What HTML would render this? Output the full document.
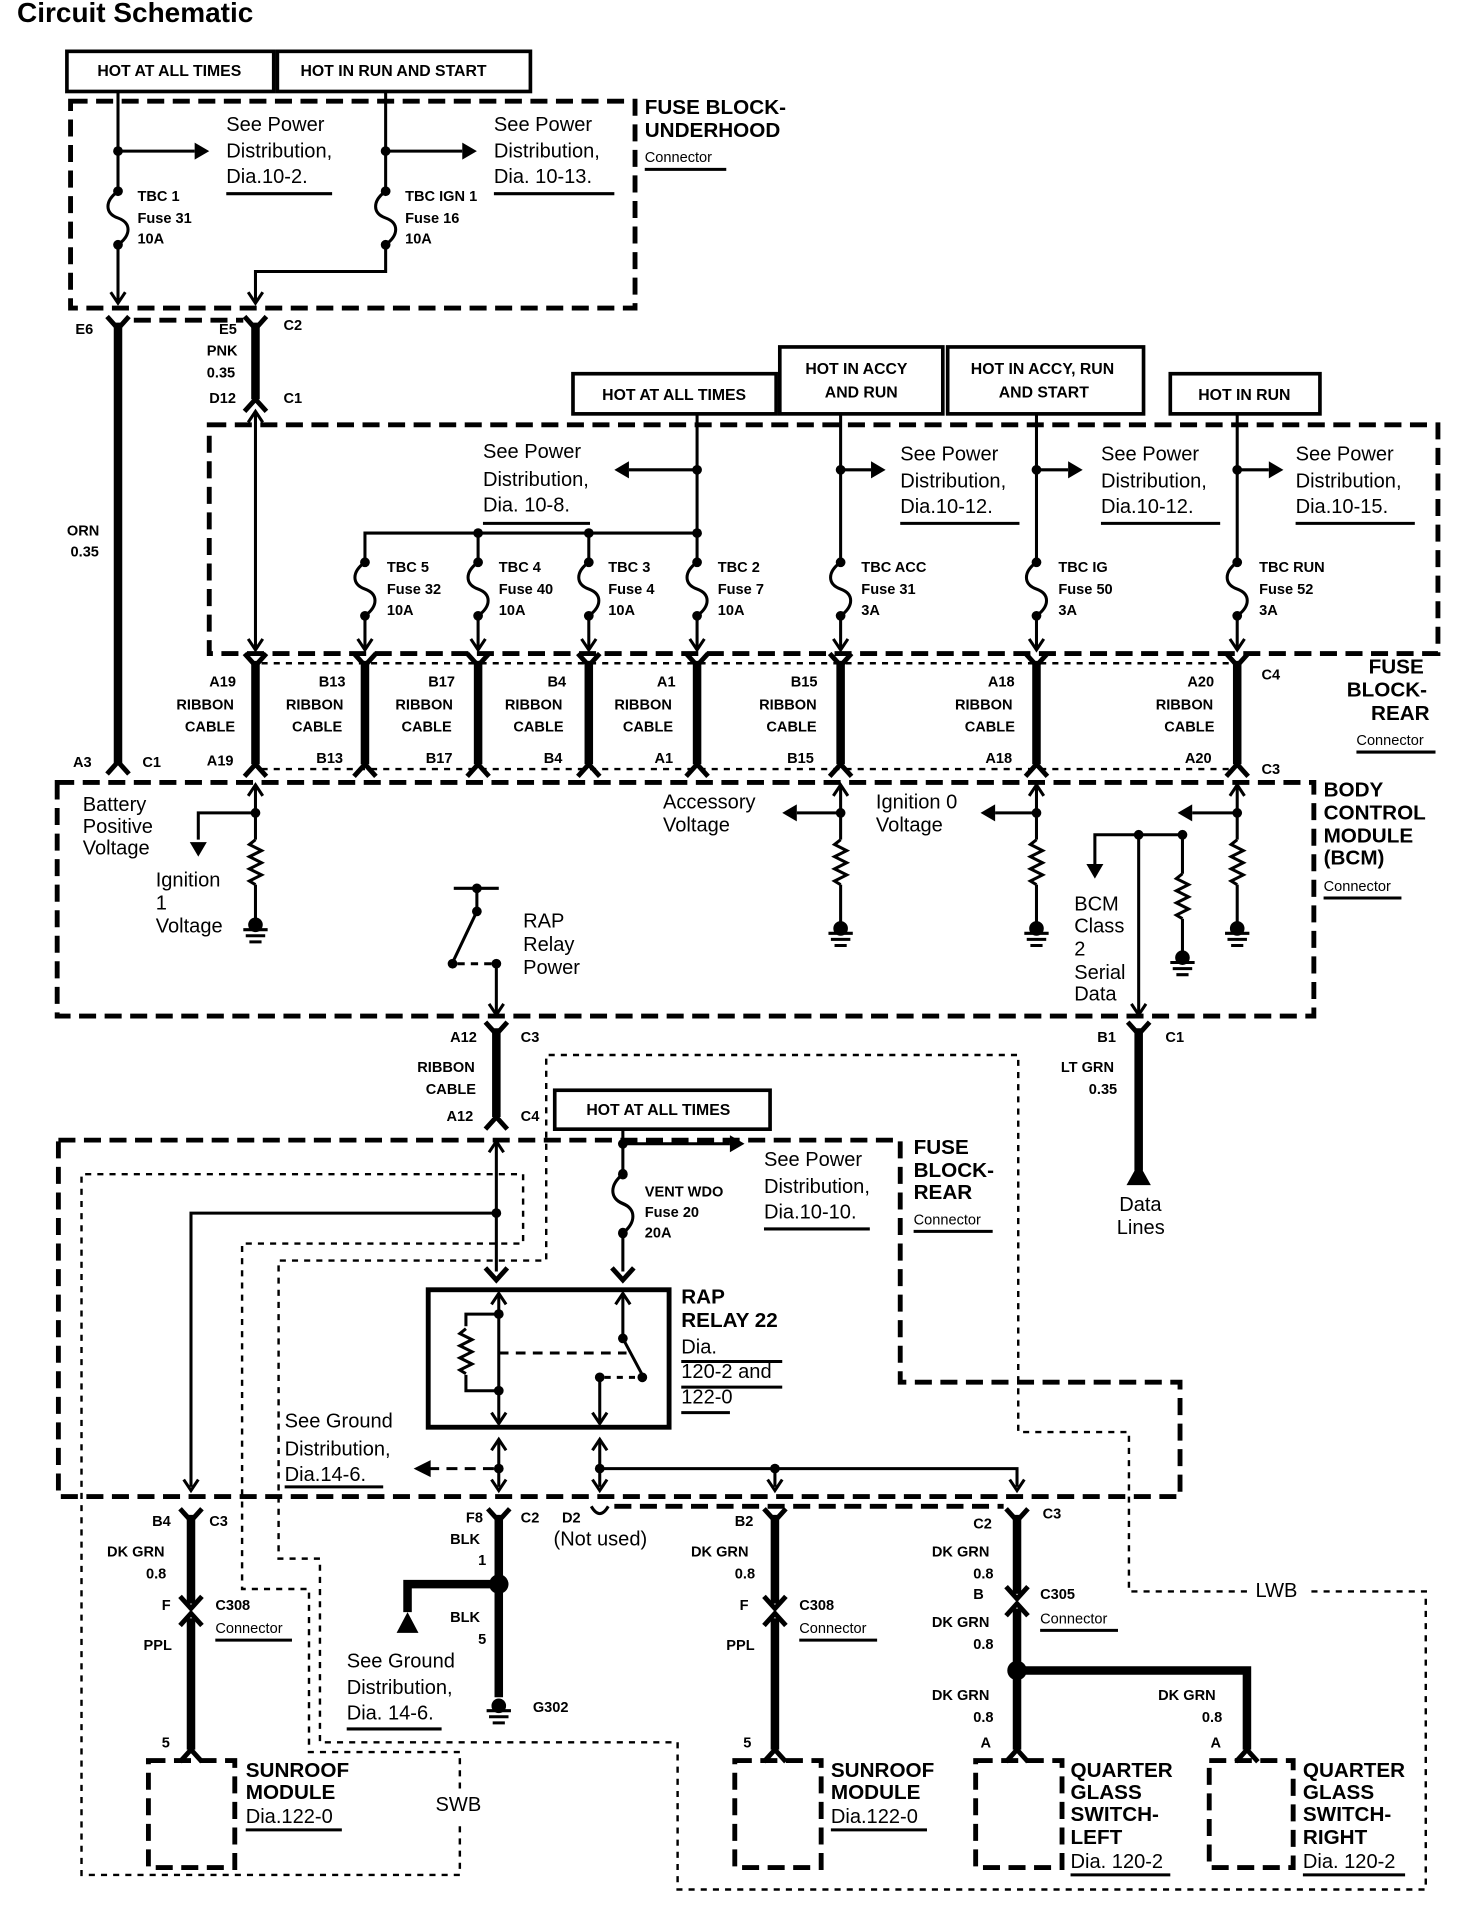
<!DOCTYPE html>
<html><head><meta charset="utf-8"><style>
html,body{margin:0;padding:0;background:#fff}
svg{display:block}
text{font-family:"Liberation Sans",Arial,sans-serif;fill:#000;dominant-baseline:middle}
.b{font-weight:bold;font-size:12px}
.n{font-size:16.5px}
.h{font-weight:bold;font-size:17px}
.c{font-size:12px}
.w{stroke:#000;stroke-width:2.5;fill:none}
.t{stroke:#000;stroke-width:7;fill:none}
.d{stroke:#000;stroke-width:4;fill:none;stroke-dasharray:14 7}
.dd{stroke:#000;stroke-width:2;fill:none;stroke-dasharray:5 5}
.bx{stroke:#000;stroke-width:3;fill:#fff}
</style></head><body>
<svg width="1472" height="1908" viewBox="0 0 1210 1568" xmlns="http://www.w3.org/2000/svg">
<defs>
<path id="cT" d="M-9,-8 L0,2 L9,-8" stroke="#000" stroke-width="4" fill="none"/>
<path id="cB" d="M-9,8 L0,-2 L9,8" stroke="#000" stroke-width="4" fill="none"/>
<path id="aD" d="M-6,-9 L0,0 L6,-9" stroke="#000" stroke-width="2.5" fill="none"/>
<path id="aU" d="M-6,9 L0,0 L6,9" stroke="#000" stroke-width="2.5" fill="none"/>
<polygon id="fR" points="-12,-7 0,0 -12,7" fill="#000"/>
<polygon id="fL" points="12,-7 0,0 12,7" fill="#000"/>
<polygon id="fD" points="-7,-12 0,0 7,-12" fill="#000"/>
<g id="fuse"><circle cx="0" cy="0" r="4" fill="#000"/><circle cx="0" cy="44" r="4" fill="#000"/><path d="M0,0 C-11,8 -11,18 0,22 C11,26 11,36 0,44" stroke="#000" stroke-width="2.5" fill="none"/></g>
<path id="res" d="M0,0 l-5,4 l10,5 l-10,5 l10,5 l-10,5 l10,5 l-10,5 l5,3" stroke="#000" stroke-width="2.5" fill="none"/>
<g id="gnd"><circle cx="0" cy="0" r="6" fill="#000"/><path d="M-10,4 h20 M-8,9 h16 M-5,14 h10" stroke="#000" stroke-width="2.5"/></g>
</defs>

<text x="14" y="12" style="font-weight:bold;font-size:23px">Circuit Schematic</text>

<rect x="55" y="42" width="170" height="33" class="bx"/><text x="80" y="59" class="b" style="font-size:13px">HOT AT ALL TIMES</text>
<rect x="228" y="42" width="208" height="33" class="bx"/><text x="247" y="59" class="b" style="font-size:13px">HOT IN RUN AND START</text>

<rect x="58" y="83" width="464" height="170" class="d"/>
<text x="530" y="89" class="h">FUSE BLOCK-</text><text x="530" y="108" class="h">UNDERHOOD</text>
<text x="530" y="130" class="c">Connector</text><line x1="530" y1="139" x2="597" y2="139" class="w" stroke-width="1.5"/>
<path d="M97,75 V157 M97,201 V248 M97,124 H160" class="w"/><use href="#fR" x="172" y="124"/><circle cx="97" cy="124" r="4"/>
<use href="#fuse" x="97" y="157"/><use href="#aD" x="97" y="249"/>
<text x="113" y="162" class="b">TBC 1</text><text x="113" y="180" class="b">Fuse 31</text><text x="113" y="197" class="b">10A</text>
<text x="186" y="103" class="n">See Power</text><text x="186" y="125" class="n">Distribution,</text><text x="186" y="146" class="n">Dia.10-2.</text>
<line x1="186" y1="159" x2="273" y2="159" class="w" stroke-width="1.5"/>
<path d="M317,75 V157 M317,201 V223 H210 V248 M317,124 H380" class="w"/><use href="#fR" x="392" y="124"/><circle cx="317" cy="124" r="4"/>
<use href="#fuse" x="317" y="157"/><use href="#aD" x="210" y="249"/>
<text x="333" y="162" class="b">TBC IGN 1</text><text x="333" y="180" class="b">Fuse 16</text><text x="333" y="197" class="b">10A</text>
<text x="406" y="103" class="n">See Power</text><text x="406" y="125" class="n">Distribution,</text><text x="406" y="146" class="n">Dia. 10-13.</text>
<line x1="406" y1="159" x2="505" y2="159" class="w" stroke-width="1.5"/>

<line x1="110" y1="263" x2="200" y2="263" class="d" stroke-width="3"/>
<path d="M97,265 V627" class="t"/><use href="#cT" x="97" y="268"/><use href="#cB" x="97" y="628"/>
<path d="M210,265 V328" class="t"/><use href="#cT" x="210" y="268"/><use href="#cB" x="210" y="330"/>
<text x="62" y="271" class="b">E6</text><text x="180" y="271" class="b">E5</text><text x="233" y="268" class="b">C2</text>
<text x="170" y="289" class="b">PNK</text><text x="170" y="307" class="b">0.35</text><text x="172" y="328" class="b">D12</text><text x="233" y="328" class="b">C1</text>
<text x="55" y="437" class="b">ORN</text><text x="58" y="454" class="b">0.35</text>

<rect x="471" y="307" width="167" height="33" class="bx"/><text x="495" y="325" class="b" style="font-size:13px">HOT AT ALL TIMES</text>
<rect x="641" y="285" width="134" height="55" class="bx"/><text x="662" y="304" class="b" style="font-size:13px">HOT IN ACCY</text><text x="678" y="323" class="b" style="font-size:13px">AND RUN</text>
<rect x="779" y="285" width="161" height="55" class="bx"/><text x="798" y="304" class="b" style="font-size:13px">HOT IN ACCY, RUN</text><text x="821" y="323" class="b" style="font-size:13px">AND START</text>
<rect x="962" y="307" width="123" height="33" class="bx"/><text x="985" y="325" class="b" style="font-size:13px">HOT IN RUN</text>

<rect x="172" y="349" width="1010" height="188" class="d"/>
<text x="1125" y="549" class="h">FUSE</text><text x="1107" y="568" class="h">BLOCK-</text><text x="1127" y="587" class="h">REAR</text>
<text x="1115" y="609" class="c">Connector</text><line x1="1115" y1="618" x2="1180" y2="618" class="w" stroke-width="1.5"/>
<path d="M210,340 V532" class="w"/><use href="#aU" x="210" y="338"/><use href="#aD" x="210" y="534"/>
<path d="M573,340 V462 M573,506 V532 M573,386 H517 M573,438 H300 V462 M393,438 V462 M484,438 V462 M300,506 V532 M393,506 V532 M484,506 V532" class="w"/>
<use href="#fL" x="505" y="386"/><circle cx="573" cy="386" r="4"/><circle cx="573" cy="438" r="4"/><circle cx="393" cy="438" r="4"/><circle cx="484" cy="438" r="4"/>
<use href="#fuse" x="300" y="462"/><use href="#fuse" x="393" y="462"/><use href="#fuse" x="484" y="462"/><use href="#fuse" x="573" y="462"/>
<use href="#aD" x="300" y="534"/><use href="#aD" x="393" y="534"/><use href="#aD" x="484" y="534"/><use href="#aD" x="573" y="534"/>
<text x="318" y="467" class="b">TBC 5</text><text x="318" y="485" class="b">Fuse 32</text><text x="318" y="502" class="b">10A</text>
<text x="410" y="467" class="b">TBC 4</text><text x="410" y="485" class="b">Fuse 40</text><text x="410" y="502" class="b">10A</text>
<text x="500" y="467" class="b">TBC 3</text><text x="500" y="485" class="b">Fuse 4</text><text x="500" y="502" class="b">10A</text>
<text x="590" y="467" class="b">TBC 2</text><text x="590" y="485" class="b">Fuse 7</text><text x="590" y="502" class="b">10A</text>
<text x="397" y="372" class="n">See Power</text><text x="397" y="395" class="n">Distribution,</text><text x="397" y="416" class="n">Dia. 10-8.</text>
<line x1="397" y1="430" x2="485" y2="430" class="w" stroke-width="1.5"/>

<path d="M691,340 V462 M691,506 V532 M691,386 H716" class="w"/><use href="#fR" x="728" y="386"/><circle cx="691" cy="386" r="4"/>
<use href="#fuse" x="691" y="462"/><use href="#aD" x="691" y="534"/>
<text x="708" y="467" class="b">TBC ACC</text><text x="708" y="485" class="b">Fuse 31</text><text x="708" y="502" class="b">3A</text>
<text x="740" y="374" class="n">See Power</text><text x="740" y="396" class="n">Distribution,</text><text x="740" y="417" class="n">Dia.10-12.</text>
<line x1="740" y1="430" x2="838" y2="430" class="w" stroke-width="1.5"/>

<path d="M852,340 V462 M852,506 V532 M852,386 H878" class="w"/><use href="#fR" x="890" y="386"/><circle cx="852" cy="386" r="4"/>
<use href="#fuse" x="852" y="462"/><use href="#aD" x="852" y="534"/>
<text x="870" y="467" class="b">TBC IG</text><text x="870" y="485" class="b">Fuse 50</text><text x="870" y="502" class="b">3A</text>
<text x="905" y="374" class="n">See Power</text><text x="905" y="396" class="n">Distribution,</text><text x="905" y="417" class="n">Dia.10-12.</text>
<line x1="905" y1="430" x2="1003" y2="430" class="w" stroke-width="1.5"/>

<path d="M1017,340 V462 M1017,506 V532 M1017,386 H1043" class="w"/><use href="#fR" x="1055" y="386"/><circle cx="1017" cy="386" r="4"/>
<use href="#fuse" x="1017" y="462"/><use href="#aD" x="1017" y="534"/>
<text x="1035" y="467" class="b">TBC RUN</text><text x="1035" y="485" class="b">Fuse 52</text><text x="1035" y="502" class="b">3A</text>
<text x="1065" y="374" class="n">See Power</text><text x="1065" y="396" class="n">Distribution,</text><text x="1065" y="417" class="n">Dia.10-15.</text>
<line x1="1065" y1="430" x2="1163" y2="430" class="w" stroke-width="1.5"/>

<line x1="215" y1="545" x2="1012" y2="545" class="dd" stroke-width="2.5" stroke-dasharray="22 8"/>
<line x1="215" y1="632" x2="1012" y2="632" class="dd" stroke-width="2.5" stroke-dasharray="22 8"/>
<g class="t"><path d="M210,543 V628 M300,543 V628 M393,543 V628 M484,543 V628 M573,543 V628 M691,543 V628 M852,543 V628 M1017,543 V628"/></g>
<use href="#cT" x="210" y="545"/><use href="#cT" x="300" y="545"/><use href="#cT" x="393" y="545"/><use href="#cT" x="484" y="545"/><use href="#cT" x="573" y="545"/><use href="#cT" x="691" y="545"/><use href="#cT" x="852" y="545"/><use href="#cT" x="1017" y="545"/>
<use href="#cB" x="210" y="630"/><use href="#cB" x="300" y="630"/><use href="#cB" x="393" y="630"/><use href="#cB" x="484" y="630"/><use href="#cB" x="573" y="630"/><use href="#cB" x="691" y="630"/><use href="#cB" x="852" y="630"/><use href="#cB" x="1017" y="630"/>
<text x="172" y="561" class="b">A19</text><text x="145" y="580" class="b">RIBBON</text><text x="152" y="598" class="b">CABLE</text><text x="170" y="626" class="b">A19</text>
<text x="262" y="561" class="b">B13</text><text x="235" y="580" class="b">RIBBON</text><text x="240" y="598" class="b">CABLE</text><text x="260" y="624" class="b">B13</text>
<text x="352" y="561" class="b">B17</text><text x="325" y="580" class="b">RIBBON</text><text x="330" y="598" class="b">CABLE</text><text x="350" y="624" class="b">B17</text>
<text x="450" y="561" class="b">B4</text><text x="415" y="580" class="b">RIBBON</text><text x="422" y="598" class="b">CABLE</text><text x="447" y="624" class="b">B4</text>
<text x="540" y="561" class="b">A1</text><text x="505" y="580" class="b">RIBBON</text><text x="512" y="598" class="b">CABLE</text><text x="538" y="624" class="b">A1</text>
<text x="650" y="561" class="b">B15</text><text x="624" y="580" class="b">RIBBON</text><text x="630" y="598" class="b">CABLE</text><text x="647" y="624" class="b">B15</text>
<text x="812" y="561" class="b">A18</text><text x="785" y="580" class="b">RIBBON</text><text x="793" y="598" class="b">CABLE</text><text x="810" y="624" class="b">A18</text>
<text x="976" y="561" class="b">A20</text><text x="950" y="580" class="b">RIBBON</text><text x="957" y="598" class="b">CABLE</text><text x="974" y="624" class="b">A20</text>
<text x="1037" y="555" class="b">C4</text><text x="1037" y="633" class="b">C3</text>
<text x="60" y="627" class="b">A3</text><text x="117" y="627" class="b">C1</text>

<rect x="47" y="643" width="1033" height="192" class="d"/>
<text x="1088" y="650" class="h">BODY</text><text x="1088" y="669" class="h">CONTROL</text><text x="1088" y="688" class="h">MODULE</text><text x="1088" y="706" class="h">(BCM)</text>
<text x="1088" y="729" class="c">Connector</text><line x1="1088" y1="738" x2="1152" y2="738" class="w" stroke-width="1.5"/>
<path d="M210,646 V690 M210,727 V755 M210,668 H163 V690" class="w"/><use href="#aU" x="210" y="645"/><circle cx="210" cy="668" r="4"/>
<use href="#fD" x="163" y="704"/><use href="#res" x="210" y="690"/><use href="#gnd" x="210" y="760"/>
<text x="68" y="662" class="n">Battery</text><text x="68" y="680" class="n">Positive</text><text x="68" y="698" class="n">Voltage</text>
<text x="128" y="724" class="n">Ignition</text><text x="128" y="743" class="n">1</text><text x="128" y="762" class="n">Voltage</text>
<path d="M691,646 V690 M691,727 V758 M691,668 H655" class="w"/><use href="#aU" x="691" y="645"/><circle cx="691" cy="668" r="4"/><use href="#fL" x="643" y="668"/>
<use href="#res" x="691" y="690"/><use href="#gnd" x="691" y="763"/>
<text x="545" y="660" class="n">Accessory</text><text x="545" y="679" class="n">Voltage</text>
<path d="M852,646 V690 M852,727 V758 M852,668 H818" class="w"/><use href="#aU" x="852" y="645"/><circle cx="852" cy="668" r="4"/><use href="#fL" x="806" y="668"/>
<use href="#res" x="852" y="690"/><use href="#gnd" x="852" y="763"/>
<text x="720" y="660" class="n">Ignition 0</text><text x="720" y="679" class="n">Voltage</text>
<path d="M1017,646 V690 M1017,727 V758 M1017,668 H980" class="w"/><use href="#aU" x="1017" y="645"/><circle cx="1017" cy="668" r="4"/><use href="#fL" x="968" y="668"/>
<use href="#res" x="1017" y="690"/><use href="#gnd" x="1017" y="763"/>
<path d="M936,686 V832 M936,686 H900 V710 M936,686 H972 V718 M972,755 V782" class="w"/><circle cx="936" cy="686" r="4"/><circle cx="972" cy="686" r="4"/>
<use href="#fD" x="900" y="722"/><use href="#res" x="972" y="718"/><use href="#gnd" x="972" y="787"/><use href="#aD" x="936" y="834"/>
<text x="883" y="744" class="n">BCM</text><text x="883" y="762" class="n">Class</text><text x="883" y="781" class="n">2</text><text x="883" y="800" class="n">Serial</text><text x="883" y="818" class="n">Data</text>
<path d="M373,730 H410 M392,730 V749 L373,789 M408,792 V832" class="w"/><circle cx="392" cy="730" r="4"/><circle cx="392" cy="749" r="4"/><circle cx="372" cy="792" r="4"/><circle cx="408" cy="792" r="4"/>
<line x1="376" y1="792" x2="404" y2="792" class="w" stroke-dasharray="6 5"/><use href="#aD" x="408" y="834"/>
<text x="430" y="758" class="n">RAP</text><text x="430" y="777" class="n">Relay</text><text x="430" y="796" class="n">Power</text>

<path d="M408,845 V918" class="t"/><use href="#cT" x="408" y="848"/><use href="#cB" x="408" y="920"/>
<text x="370" y="853" class="b">A12</text><text x="428" y="853" class="b">C3</text><text x="343" y="878" class="b">RIBBON</text><text x="350" y="896" class="b">CABLE</text>
<text x="367" y="918" class="b">A12</text><text x="428" y="918" class="b">C4</text>
<path d="M936,845 V962" class="t"/><use href="#cT" x="936" y="848"/><polygon points="926,974 936,956 946,974" fill="#000"/>
<text x="902" y="853" class="b">B1</text><text x="958" y="853" class="b">C1</text><text x="872" y="878" class="b">LT GRN</text><text x="895" y="896" class="b">0.35</text>
<text x="920" y="991" class="n">Data</text><text x="918" y="1010" class="n">Lines</text>

<path d="M1025,1308 H928 V1177 H837 V867 H449 V1036 H229 V1281 H263 V1432 H557 V1553 H1172 V1308 H1078" class="dd"/>
<path d="M378,1470 V1440 H254 V1306 H199 V1022 H430 V965 H67 V1541 H378 V1500" class="dd"/>
<text x="1032" y="1308" class="n">LWB</text><text x="358" y="1484" class="n">SWB</text>

<rect x="456" y="896" width="177" height="32" class="bx"/><text x="482" y="913" class="b" style="font-size:13px">HOT AT ALL TIMES</text>

<path d="M48,937 H740 V1136 H970 V1230 H48 Z" class="d"/>
<text x="751" y="944" class="h">FUSE</text><text x="751" y="963" class="h">BLOCK-</text><text x="751" y="981" class="h">REAR</text>
<text x="751" y="1003" class="c">Connector</text><line x1="751" y1="1012" x2="816" y2="1012" class="w" stroke-width="1.5"/>
<path d="M408,940 V1045 M408,997 H157 V1222" class="w"/><use href="#aU" x="408" y="938"/><circle cx="408" cy="997" r="4"/><use href="#cT" x="408" y="1050" /><use href="#aD" x="157" y="1225"/>
<path d="M512,928 V962 M512,1012 V1045 M512,940 H600" class="w"/><circle cx="512" cy="940" r="4"/><use href="#fR" x="612" y="940"/>
<g transform="translate(512,965) scale(1,1.1)"><use href="#fuse"/></g><use href="#cT" x="512" y="1050"/>
<text x="530" y="980" class="b">VENT WDO</text><text x="530" y="997" class="b">Fuse 20</text><text x="530" y="1014" class="b">20A</text>
<text x="628" y="954" class="n">See Power</text><text x="628" y="976" class="n">Distribution,</text><text x="628" y="997" class="n">Dia.10-10.</text>
<line x1="628" y1="1010" x2="715" y2="1010" class="w" stroke-width="1.5"/>

<rect x="352" y="1060" width="198" height="113" fill="none" stroke="#000" stroke-width="4"/>
<text x="560" y="1067" class="h">RAP</text><text x="560" y="1086" class="h">RELAY 22</text>
<text x="560" y="1108" class="n">Dia.</text><text x="560" y="1128" class="n">120-2 and</text><text x="560" y="1149" class="n">122-0</text>
<path d="M560,1119 H643 M560,1140 H643 M560,1161 H600" class="w" stroke-width="1.5"/>
<path d="M410,1064 V1168 M410,1080 H383 V1090 M383,1130 V1143 H410" class="w"/><use href="#aU" x="410" y="1063"/><use href="#aD" x="410" y="1170"/>
<circle cx="410" cy="1080" r="4"/><circle cx="410" cy="1143" r="4"/><use href="#res" x="383" y="1092"/>
<path d="M410,1112 H515" class="w" stroke-dasharray="8 6"/>
<path d="M512,1064 V1100 L528,1130 M493,1132 V1168" class="w"/><use href="#aU" x="512" y="1063"/><use href="#aD" x="493" y="1170"/>
<circle cx="512" cy="1100" r="4"/><circle cx="528" cy="1132" r="4"/><circle cx="493" cy="1132" r="4"/><path d="M497,1132 H524" class="w" stroke-dasharray="5 5"/>
<path d="M410,1185 V1222 M493,1185 V1222 M493,1207 H836 V1222 M637,1207 V1222" class="w"/>
<use href="#aU" x="410" y="1183"/><use href="#aU" x="493" y="1183"/>
<circle cx="410" cy="1207" r="4"/><circle cx="493" cy="1207" r="4"/><circle cx="637" cy="1207" r="4"/>
<path d="M406,1207 H352" class="w" stroke-dasharray="9 6"/><polygon points="340,1207 354,1200 354,1214" fill="#000"/>
<use href="#aD" x="410" y="1225"/><use href="#aD" x="493" y="1225"/><use href="#aD" x="637" y="1225"/><use href="#aD" x="836" y="1225"/>
<text x="234" y="1169" class="n">See Ground</text><text x="234" y="1192" class="n">Distribution,</text><text x="234" y="1213" class="n">Dia.14-6.</text>
<line x1="234" y1="1222" x2="315" y2="1222" class="w" stroke-width="1.5"/>

<line x1="505" y1="1238" x2="825" y2="1238" class="d" stroke-width="3"/>
<path d="M157,1245 V1318 M157,1330 V1438" class="t"/><use href="#cT" x="157" y="1248"/><use href="#cT" x="157" y="1320"/><use href="#cB" x="157" y="1328"/><use href="#cB" x="157" y="1440"/>
<text x="125" y="1251" class="b">B4</text><text x="172" y="1251" class="b">C3</text><text x="88" y="1276" class="b">DK GRN</text><text x="120" y="1294" class="b">0.8</text>
<text x="133" y="1320" class="b">F</text><text x="177" y="1320" class="b">C308</text><text x="177" y="1339" class="c">Connector</text><line x1="177" y1="1348" x2="240" y2="1348" class="w" stroke-width="1.5"/>
<text x="118" y="1353" class="b">PPL</text><text x="133" y="1433" class="b">5</text>
<rect x="122" y="1447" width="71" height="88" class="d"/>
<text x="202" y="1456" class="h">SUNROOF</text><text x="202" y="1474" class="h">MODULE</text><text x="202" y="1494" class="n">Dia.122-0</text><line x1="202" y1="1504" x2="281" y2="1504" class="w" stroke-width="1.5"/>

<path d="M410,1245 V1395 M410,1302 H335 V1325" class="t"/><use href="#cT" x="410" y="1248"/><circle cx="410" cy="1302" r="8"/>
<polygon points="326,1342 335,1325 344,1342" fill="#000"/><use href="#gnd" x="410" y="1402"/>
<text x="383" y="1248" class="b">F8</text><text x="428" y="1248" class="b">C2</text><text x="370" y="1266" class="b">BLK</text><text x="393" y="1283" class="b">1</text>
<text x="370" y="1330" class="b">BLK</text><text x="393" y="1348" class="b">5</text><text x="438" y="1404" class="b">G302</text>
<text x="285" y="1366" class="n">See Ground</text><text x="285" y="1388" class="n">Distribution,</text><text x="285" y="1409" class="n">Dia. 14-6.</text>
<line x1="285" y1="1421" x2="363" y2="1421" class="w" stroke-width="1.5"/>
<path d="M486,1238 Q493,1250 500,1238" class="w" stroke-width="4"/>
<text x="462" y="1248" class="b">D2</text><text x="455" y="1266" class="n">(Not used)</text>

<path d="M637,1245 V1318 M637,1330 V1438" class="t"/><use href="#cT" x="637" y="1248"/><use href="#cT" x="637" y="1320"/><use href="#cB" x="637" y="1328"/><use href="#cB" x="637" y="1440"/>
<text x="604" y="1251" class="b">B2</text><text x="568" y="1276" class="b">DK GRN</text><text x="604" y="1294" class="b">0.8</text>
<text x="608" y="1320" class="b">F</text><text x="657" y="1320" class="b">C308</text><text x="657" y="1339" class="c">Connector</text><line x1="657" y1="1348" x2="721" y2="1348" class="w" stroke-width="1.5"/>
<text x="597" y="1353" class="b">PPL</text><text x="611" y="1433" class="b">5</text>
<rect x="604" y="1447" width="71" height="88" class="d"/>
<text x="683" y="1456" class="h">SUNROOF</text><text x="683" y="1474" class="h">MODULE</text><text x="683" y="1494" class="n">Dia.122-0</text><line x1="683" y1="1504" x2="762" y2="1504" class="w" stroke-width="1.5"/>

<path d="M836,1245 V1310 M836,1322 V1438 M836,1373 H1025 V1438" class="t"/><use href="#cT" x="836" y="1248"/><use href="#cT" x="836" y="1312"/><use href="#cB" x="836" y="1320"/>
<circle cx="836" cy="1373" r="8"/><use href="#cB" x="836" y="1440"/><use href="#cB" x="1025" y="1440"/>
<text x="800" y="1253" class="b">C2</text><text x="857" y="1245" class="b">C3</text><text x="766" y="1276" class="b">DK GRN</text><text x="800" y="1294" class="b">0.8</text>
<text x="800" y="1311" class="b">B</text><text x="855" y="1311" class="b">C305</text><text x="855" y="1331" class="c">Connector</text><line x1="855" y1="1340" x2="919" y2="1340" class="w" stroke-width="1.5"/>
<text x="766" y="1334" class="b">DK GRN</text><text x="800" y="1352" class="b">0.8</text>
<text x="766" y="1394" class="b">DK GRN</text><text x="800" y="1412" class="b">0.8</text><text x="806" y="1433" class="b">A</text>
<text x="952" y="1394" class="b">DK GRN</text><text x="988" y="1412" class="b">0.8</text><text x="995" y="1433" class="b">A</text>
<rect x="802" y="1447" width="71" height="88" class="d"/>
<text x="880" y="1456" class="h">QUARTER</text><text x="880" y="1474" class="h">GLASS</text><text x="880" y="1492" class="h">SWITCH-</text><text x="880" y="1511" class="h">LEFT</text>
<text x="880" y="1531" class="n">Dia. 120-2</text><line x1="880" y1="1541" x2="962" y2="1541" class="w" stroke-width="1.5"/>
<rect x="994" y="1447" width="69" height="88" class="d"/>
<text x="1071" y="1456" class="h">QUARTER</text><text x="1071" y="1474" class="h">GLASS</text><text x="1071" y="1492" class="h">SWITCH-</text><text x="1071" y="1511" class="h">RIGHT</text>
<text x="1071" y="1531" class="n">Dia. 120-2</text><line x1="1071" y1="1541" x2="1155" y2="1541" class="w" stroke-width="1.5"/>
</svg>
</body></html>
